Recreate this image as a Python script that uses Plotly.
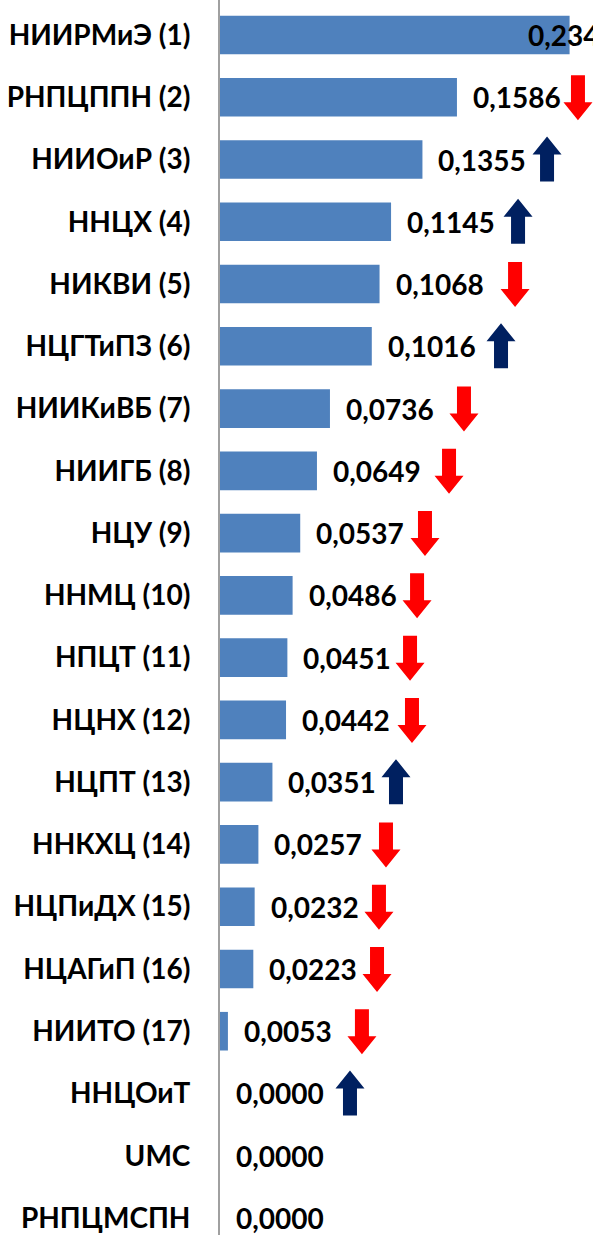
import plotly.graph_objects as go

names = ["НИИРМиЭ (1)", "РНПЦППН (2)", "НИИОиР (3)", "ННЦХ (4)", "НИКВИ (5)",
         "НЦГТиПЗ (6)", "НИИКиВБ (7)", "НИИГБ (8)", "НЦУ (9)", "ННМЦ (10)",
         "НПЦТ (11)", "НЦНХ (12)", "НЦПТ (13)", "ННКХЦ (14)", "НЦПиДХ (15)",
         "НЦАГиП (16)", "НИИТО (17)", "ННЦОиТ", "UMC", "РНПЦМСПН"]
values = [0.2340, 0.1586, 0.1355, 0.1145, 0.1068, 0.1016, 0.0736, 0.0649, 0.0537, 0.0486,
          0.0451, 0.0442, 0.0351, 0.0257, 0.0232, 0.0223, 0.0053, 0.0, 0.0, 0.0]
trend = ["", "down", "up", "up", "down", "up", "down", "down", "down", "down",
         "down", "down", "up", "down", "down", "down", "down", "up", "", ""]
# where the arrow sits along the value axis
arrow_at = [None, 0.2396, 0.2189, 0.1995, 0.1975, 0.1881, 0.1633, 0.1533, 0.1372, 0.1319,
            0.1272, 0.1285, 0.1178, 0.1111, 0.1064, 0.1051, 0.0950, 0.0870, None, None]

FONT = "Lato"

fig = go.Figure()
fig.add_trace(go.Bar(
    x=values, y=names, orientation="h",
    marker=dict(color="#4F81BD", line=dict(width=0)),
    hoverinfo="skip",
))

down_path = "M -7,22 L 7,22 L 7,-5 L 14.5,-5 L 0,-23 L -14.5,-5 L -7,-5 Z"
up_path = "M -7,-22 L 7,-22 L 7,5 L 14.5,5 L 0,23 L -14.5,5 L -7,5 Z"

annotations = []
shapes = []
for i, (n, v) in enumerate(zip(names, values)):
    txt = f"{v:.4f}".replace(".", ",")
    annotations.append(dict(
        x=v, y=n, xref="x", yref="y", text=txt, showarrow=False,
        xanchor="left", yanchor="middle", xshift=(-44 if i == 0 else 14), yshift=0,
        font=dict(family=FONT, size=28, color="black", weight="bold"),
    ))
    if trend[i]:
        shapes.append(dict(
            type="path", xref="x", yref="y",
            xsizemode="pixel", ysizemode="pixel",
            xanchor=arrow_at[i], yanchor=n,
            path=down_path if trend[i] == "down" else up_path,
            fillcolor="#FF0000" if trend[i] == "down" else "#002060",
            line=dict(width=0),
        ))

fig.update_layout(
    width=593, height=1235,
    margin=dict(l=220, r=0, t=0, b=0),
    paper_bgcolor="white", plot_bgcolor="white",
    showlegend=False, bargap=0.38,
    annotations=annotations, shapes=shapes,
    xaxis=dict(range=[0, 373 / 1494], visible=False, showgrid=False, zeroline=False),
    yaxis=dict(
        categoryorder="array", categoryarray=names,
        range=[19.273, -0.562],
        showline=True, linecolor="#A0A0A0", linewidth=2,
        showgrid=False, ticks="", ticklabelstandoff=22,
        tickfont=dict(family=FONT, size=28, color="black", weight="bold"),
    ),
)

fig.write_html("out.html", config={"displayModeBar": False},
               post_script="document.body.style.margin='0';")
